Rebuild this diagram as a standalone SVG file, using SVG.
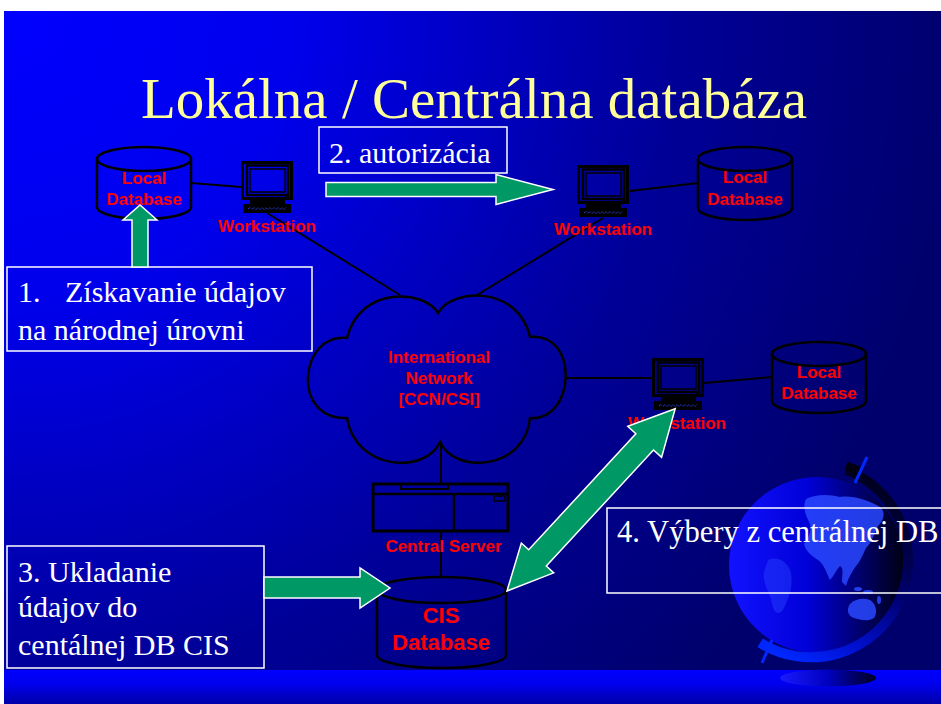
<svg xmlns="http://www.w3.org/2000/svg" xmlns:xlink="http://www.w3.org/1999/xlink" width="941" height="704" viewBox="0 0 941 704">
  <defs>
    <style>
      .lbl { font-family: "Liberation Sans", Arial, sans-serif; font-weight: bold; fill: #FF0000; text-anchor: middle; font-size: 17px; }
      .box { fill: none; stroke: #FFFFFF; stroke-width: 1.5; }
      .boxtxt { font-family: "Liberation Serif", "Times New Roman", serif; font-size: 30px; fill: #FFFFFF; }
      .wire { stroke: #000000; stroke-width: 2; fill: none; }
      .db { fill: none; stroke: #000000; stroke-width: 2.5; }
      .flow { fill: #009966; stroke: #FFFFFF; stroke-width: 1.5; stroke-linejoin: miter; }
      .dev { fill: none; stroke: #000000; }
    </style>
    <!-- slide backdrop: bright in the upper left corner, fading to navy -->
    <radialGradient id="bgShade" gradientUnits="userSpaceOnUse" cx="4" cy="11" r="960">
      <stop offset="0" stop-color="#0000FF"/>
      <stop offset="0.3" stop-color="#0000EC"/>
      <stop offset="0.7" stop-color="#000098"/>
      <stop offset="1" stop-color="#00006C"/>
    </radialGradient>
    <linearGradient id="stripShade" x1="0" y1="0" x2="0" y2="1">
      <stop offset="0" stop-color="#0000FF"/>
      <stop offset="0.4" stop-color="#0000EE"/>
      <stop offset="1" stop-color="#0000A8"/>
    </linearGradient>
    <linearGradient id="globeShade" gradientUnits="userSpaceOnUse" x1="729" y1="0" x2="905" y2="0">
      <stop offset="0" stop-color="#1212FF"/>
      <stop offset="0.45" stop-color="#0000D8"/>
      <stop offset="0.8" stop-color="#000058"/>
      <stop offset="1" stop-color="#000010"/>
    </linearGradient>
    <linearGradient id="ringShade" gradientUnits="userSpaceOnUse" x1="870" y1="462" x2="770" y2="650">
      <stop offset="0" stop-color="#000010"/>
      <stop offset="0.5" stop-color="#000070"/>
      <stop offset="0.8" stop-color="#0010D0"/>
      <stop offset="1" stop-color="#0028FF"/>
    </linearGradient>
    <linearGradient id="baseShade" gradientUnits="userSpaceOnUse" x1="780" y1="0" x2="876" y2="0">
      <stop offset="0" stop-color="#1A1AFF"/>
      <stop offset="0.5" stop-color="#0000C0"/>
      <stop offset="1" stop-color="#000020"/>
    </linearGradient>
    <!-- workstation icon, origin at the monitor's top-left corner -->
    <g id="ws-icon">
      <rect class="dev" x="1.5" y="1.5" width="49" height="36" stroke-width="3"/>
      <rect class="dev" x="6" y="4.5" width="41" height="29.5" stroke-width="2.5"/>
      <rect class="dev" x="9" y="8" width="35" height="23" stroke-width="1.5"/>
      <rect x="44" y="34.5" width="4" height="2" fill="#000000"/>
      <rect x="9" y="38" width="35" height="5" fill="#000000"/>
      <rect x="2" y="43" width="48" height="9" fill="#000000"/>
      <polyline points="7,48 9,46.5 11,48.5 13,46.5 15,48.5 17,46.5 19,48.5 21,46.5 23,48.5 25,46.5 27,48.5 29,46.5 31,48.5 33,46.5 35,48.5 37,46.5 39,48.5 41,46.5 43,48.5 45,46.5" fill="none" stroke="#3344FF" stroke-width="1" stroke-dasharray="1.2,0.8"/>
    </g>
  </defs>

  <!-- page and slide background -->
  <rect x="0" y="0" width="941" height="704" fill="#FFFFFF"/>
  <rect x="4" y="11" width="937" height="659" fill="url(#bgShade)"/>
  <rect x="4" y="670" width="937" height="34" fill="url(#stripShade)"/>

  <!-- decorative globe -->
  <g id="globe">
    <circle cx="817" cy="565" r="88" fill="url(#globeShade)"/>
    <g fill="#2A48FF" opacity="0.85">
      <path d="M806,499 C815,494 830,494 840,497 C852,495 868,500 880,507 C886,512 884,520 878,526 C874,534 872,542 866,548 C862,556 860,562 856,566 C852,572 848,578 846,586 L842,582 C842,574 844,568 840,566 C836,570 834,576 830,580 C826,572 824,564 818,560 C812,556 806,552 804,544 C808,538 812,532 810,524 C806,516 802,508 806,499 Z"/>
      <path d="M850,604 C856,598 864,598 870,600 C876,604 878,612 874,618 C868,622 860,620 854,618 C848,616 846,610 850,604 Z"/>
      <ellipse cx="858" cy="589" rx="4" ry="2"/>
      <ellipse cx="868" cy="592" rx="5" ry="2"/>
      <ellipse cx="879" cy="600" rx="2" ry="4"/>
      <path d="M768,560 C776,556 786,560 790,570 C794,582 790,596 784,608 C780,616 774,614 772,604 C770,592 762,584 764,572 Z" opacity="0.5"/>
    </g>
    <path d="M846.3,469.9 A97,97 0 1 1 760.1,642.8" fill="none" stroke="url(#ringShade)" stroke-width="10"/>
    <path d="M846,466 L862,472" stroke="#000010" stroke-width="9"/>
    <line x1="867" y1="457" x2="855" y2="483" stroke="#0028FF" stroke-width="3"/>
    <line x1="762" y1="663" x2="772" y2="640" stroke="#0028FF" stroke-width="3"/>
    <ellipse cx="828" cy="678" rx="48" ry="8.5" fill="url(#baseShade)"/>
  </g>

  <!-- title -->
  <text x="474" y="118" font-family="'Liberation Serif', 'Times New Roman', serif" font-size="57" fill="#FFFF99" text-anchor="middle">Lokálna / Centrálna databáza</text>

  <!-- step captions -->
  <g id="step1">
    <rect class="box" x="7" y="267" width="305" height="84"/>
    <text class="boxtxt" x="18" y="302">1.</text>
    <text class="boxtxt" x="65" y="302">Získavanie údajov</text>
    <text class="boxtxt" x="18" y="340">na národnej úrovni</text>
  </g>
  <g id="step2">
    <rect class="box" x="319" y="127" width="188" height="46"/>
    <text class="boxtxt" x="329" y="163">2. autorizácia</text>
  </g>
  <g id="step3">
    <rect class="box" x="7" y="546" width="257" height="122"/>
    <text class="boxtxt" x="18" y="582">3. Ukladanie</text>
    <text class="boxtxt" x="18" y="617">údajov do</text>
    <text class="boxtxt" x="18" y="655">centálnej DB CIS</text>
  </g>
  <g id="step4">
    <rect class="box" x="607" y="508" width="340" height="85"/>
    <text class="boxtxt" x="617" y="542" style="font-size:30.6px">4. Výbery z centrálnej DB</text>
  </g>

  <!-- network links -->
  <g id="connectors">
    <line class="wire" x1="191" y1="183" x2="241" y2="187"/>
    <line class="wire" x1="267" y1="213" x2="400" y2="295"/>
    <line class="wire" x1="477" y1="295" x2="603" y2="218"/>
    <line class="wire" x1="630" y1="191" x2="698" y2="183"/>
    <line class="wire" x1="566" y1="378" x2="652" y2="378"/>
    <line class="wire" x1="704" y1="383" x2="772" y2="377"/>
    <line class="wire" x1="441" y1="442" x2="441" y2="484"/>
    <line class="wire" x1="441" y1="531" x2="441" y2="577"/>
  </g>

  <!-- databases -->
  <g id="local-db-1">
    <path class="db" d="M97,159 V207 A47,12 0 0 0 191,207 V159"/>
    <ellipse class="db" cx="144" cy="159" rx="47" ry="12"/>
    <text class="lbl" x="144" y="184">Local</text>
    <text class="lbl" x="144" y="205">Database</text>
  </g>
  <g id="local-db-2">
    <path class="db" d="M698,159 V208 A47,12 0 0 0 792,208 V159"/>
    <ellipse class="db" cx="745" cy="159" rx="47" ry="12"/>
    <text class="lbl" x="745" y="183">Local</text>
    <text class="lbl" x="745" y="205">Database</text>
  </g>
  <g id="local-db-3">
    <path class="db" d="M772,354 V401 A47,12 0 0 0 866,401 V354"/>
    <ellipse class="db" cx="819" cy="354" rx="47" ry="12"/>
    <text class="lbl" x="819" y="378">Local</text>
    <text class="lbl" x="819" y="399">Database</text>
  </g>
  <g id="cis-db">
    <path class="db" d="M377,590 V655 A64.5,13 0 0 0 506,655 V590"/>
    <ellipse class="db" cx="441.5" cy="590" rx="64.5" ry="13"/>
    <text class="lbl" x="441" y="623" style="font-size:22px">CIS</text>
    <text class="lbl" x="441" y="650" style="font-size:22px">Database</text>
  </g>

  <!-- workstations -->
  <g id="workstation-1">
    <use xlink:href="#ws-icon" href="#ws-icon" transform="translate(241,161)"/>
    <text class="lbl" x="267" y="232">Workstation</text>
  </g>
  <g id="workstation-2">
    <use xlink:href="#ws-icon" href="#ws-icon" transform="translate(577,165)"/>
    <text class="lbl" x="603" y="235">Workstation</text>
  </g>
  <g id="workstation-3">
    <use xlink:href="#ws-icon" href="#ws-icon" transform="translate(652,358)"/>
    <text class="lbl" x="677" y="429">Workstation</text>
  </g>

  <!-- international network cloud -->
  <g id="network-cloud">
    <path d="M438,313 C425,290 360,285 347,338 C300,332 290,420 347,418 C355,470 425,475 440,442 C455,475 525,470 530,418 C575,422 580,332 530,337 C518,285 452,288 438,313 Z" fill="none" stroke="#000000" stroke-width="2.5"/>
    <text class="lbl" x="439" y="363">International</text>
    <text class="lbl" x="439" y="384">Network</text>
    <text class="lbl" x="439" y="405">[CCN/CSI]</text>
  </g>

  <!-- central server -->
  <g id="central-server">
    <rect class="dev" x="373" y="484" width="135" height="47" stroke-width="3"/>
    <line class="dev" x1="373" y1="494" x2="508" y2="494" stroke-width="2.5"/>
    <line class="dev" x1="454" y1="494" x2="454" y2="531" stroke-width="2.5"/>
    <rect class="dev" x="401" y="484" width="47" height="5" stroke-width="2"/>
    <rect class="dev" x="494" y="496" width="11" height="5" stroke-width="1.5"/>
    <text class="lbl" x="443.5" y="552">Central Server</text>
  </g>

  <!-- data-flow arrows -->
  <g id="flow-arrows">
    <polygon class="flow" points="132,267 132,220 123,220 140,205 157,220 148,220 148,267"/>
    <polygon class="flow" points="326,182.5 496,182.5 496,174.5 553,189.5 496,204.5 496,196.5 326,196.5"/>
    <polygon class="flow" points="264,577 360,577 360,568 390,588 360,608 360,598 264,598"/>
    <polygon class="flow" transform="translate(507,591) rotate(-47.3)" points="0,0 45,-22 45,-12 203,-12 203,-23 248,0 203,23 203,12 45,12 45,22"/>
  </g>
</svg>
